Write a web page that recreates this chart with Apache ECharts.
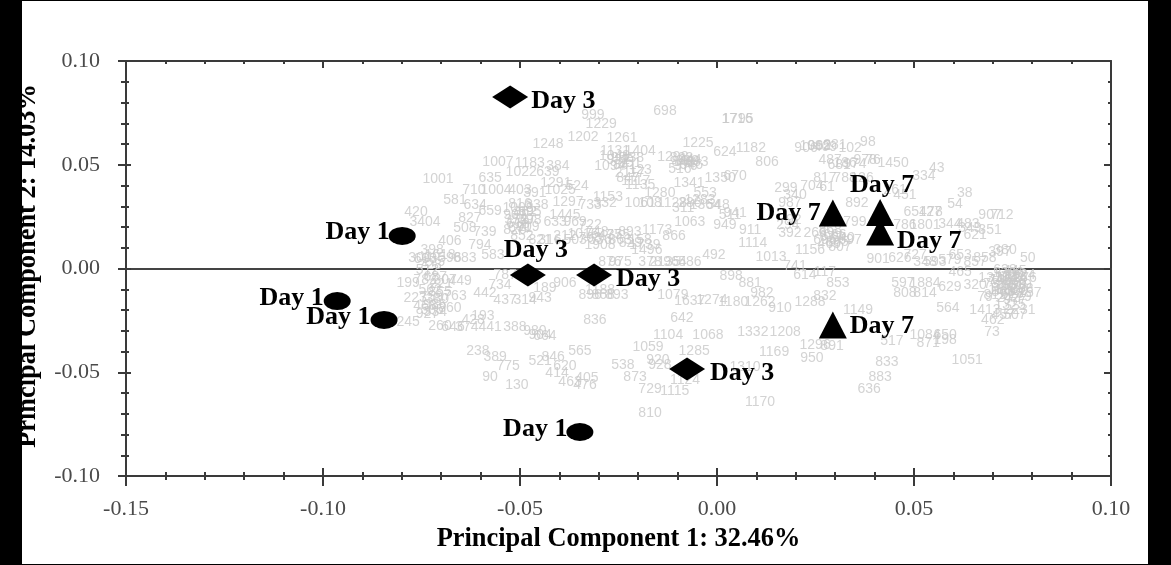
<!DOCTYPE html>
<html><head><meta charset="utf-8">
<style>html,body{margin:0;padding:0;background:#fff}#c{width:1171px;height:565px}</style>
<script src="https://cdn.jsdelivr.net/npm/echarts@6/dist/echarts.min.js"></script>
</head><body><div id="c"></div>
<script>
const xTitle = 'Principal Component 1: 32.46%';
const yTitle = 'Principal Component 2: 14.03%';
const day1Points = [[-0.0799,0.0157],[-0.0964,-0.0157],[-0.0845,-0.0248],[-0.0348,-0.0788]];
const day3Points = [[-0.0525,0.0827],[-0.0480,-0.0031],[-0.0312,-0.0031],[-0.0076,-0.0484]];
const day7Points = [[0.0294,0.0267],[0.0414,0.0270],[0.0414,0.0176],[0.0294,-0.0272]];
const day1Placement = [['left',[4,-4]],['left',[3,-3]],['left',[3,-3]],['left',[4,-3]]];
const day3Placement = [['right',[0,4]],['top',[8,3]],['right',[1,4]],['right',[2,4]]];
const day7Placement = [['left',[5,0]],['top',[2,2]],['right',[0,9]],['right',[0,1]]];
const genesTop = [[-0.0315,0.0740,'999'],[-0.0294,0.0696,'1229'],[-0.0132,0.0759,'698'],[0.0051,0.0720,'1716'],[0.0053,0.0720,'1795'],[-0.0429,0.0600,'1248'],[-0.0340,0.0634,'1202'],[-0.0241,0.0629,'1261'],[-0.0048,0.0605,'1225'],[0.0020,0.0561,'624'],[0.0086,0.0581,'1182'],[0.0127,0.0513,'806'],[-0.0556,0.0513,'1007'],[-0.0475,0.0508,'1183'],[-0.0404,0.0494,'384'],[-0.0497,0.0465,'1022'],[-0.0429,0.0465,'639'],[-0.0259,0.0566,'1131'],[-0.0195,0.0566,'1404'],[-0.0272,0.0494,'1094'],[-0.0234,0.0499,'841'],[-0.0251,0.0523,'921'],[-0.0221,0.0508,'951'],[-0.0112,0.0537,'1298'],[-0.0086,0.0513,'848'],[-0.0079,0.0494,'976'],[-0.0051,0.0513,'683'],[-0.0094,0.0480,'516'],[-0.0069,0.0523,'944'],[-0.0195,0.0475,'123'],[-0.0708,0.0431,'1001'],[-0.0576,0.0436,'635'],[-0.0617,0.0378,'710'],[-0.0561,0.0378,'1004'],[-0.0500,0.0378,'403'],[-0.0462,0.0364,'391'],[-0.0071,0.0412,'1341'],[0.0008,0.0436,'1350'],[0.0046,0.0446,'670'],[-0.0030,0.0364,'553'],[-0.0409,0.0412,'1291'],[-0.0398,0.0378,'1025'],[-0.0355,0.0398,'524'],[-0.0195,0.0402,'1135'],[-0.0206,0.0422,'1117'],[-0.0226,0.0436,'847'],[-0.0221,0.0460,'2117'],[-0.0145,0.0364,'1280'],[-0.0277,0.0345,'1153']];
const genesMiddle = [[-0.0378,0.0320,'1297'],[-0.0322,0.0306,'733'],[-0.0284,0.0316,'332'],[-0.0195,0.0316,'1061'],[-0.0170,0.0316,'108'],[-0.0114,0.0316,'1128'],[-0.0069,0.0316,'286'],[-0.0086,0.0292,'311'],[-0.0043,0.0330,'1283'],[-0.0030,0.0306,'1364'],[0.0003,0.0306,'548'],[-0.0069,0.0224,'1063'],[-0.0109,0.0157,'866'],[0.0033,0.0258,'511'],[0.0046,0.0267,'941'],[0.0020,0.0210,'949'],[0.0084,0.0186,'911'],[-0.0152,0.0186,'1173'],[-0.0221,0.0176,'893'],[0.0091,0.0123,'1114'],[0.0137,0.0055,'1013'],[-0.0008,0.0065,'492'],[-0.0500,0.0311,'816'],[-0.0487,0.0272,'862'],[-0.0513,0.0258,'907'],[-0.0475,0.0234,'598'],[-0.0505,0.0214,'618'],[-0.0513,0.0186,'826'],[-0.0495,0.0157,'852'],[-0.0475,0.0272,'695'],[-0.0457,0.0306,'338'],[-0.0386,0.0258,'1445'],[-0.0411,0.0224,'633'],[-0.0360,0.0224,'969'],[-0.0322,0.0210,'722'],[-0.0449,0.0137,'821'],[-0.0386,0.0157,'212'],[-0.0360,0.0137,'503'],[-0.0424,0.0137,'316'],[-0.0322,0.0147,'768'],[-0.0297,0.0137,'536'],[-0.0272,0.0161,'477'],[-0.0246,0.0137,'863'],[-0.0195,0.0137,'158'],[-0.0297,0.0113,'1908'],[-0.0183,0.0113,'1739'],[-0.0178,0.0089,'1496'],[-0.0246,0.0031,'975'],[-0.0272,0.0031,'876'],[-0.0170,0.0031,'378'],[-0.0132,0.0031,'2135'],[-0.0107,0.0031,'964'],[-0.0069,0.0031,'586']];
const genesLeft = [[-0.0665,0.0330,'581'],[-0.0614,0.0306,'634'],[-0.0576,0.0277,'659'],[-0.0764,0.0272,'420'],[-0.0741,0.0224,'3404'],[-0.0627,0.0243,'827'],[-0.0640,0.0195,'508'],[-0.0589,0.0176,'739'],[-0.0678,0.0133,'406'],[-0.0602,0.0113,'794'],[-0.0569,0.0065,'583'],[-0.0754,0.0051,'300'],[-0.0723,0.0089,'398'],[-0.0703,0.0065,'1618'],[-0.0728,0.0017,'728'],[-0.0678,0.0051,'596'],[-0.0640,0.0051,'883'],[-0.0784,-0.0070,'199'],[-0.0741,-0.0055,'782'],[-0.0690,-0.0055,'307'],[-0.0652,-0.0060,'449'],[-0.0766,-0.0142,'223'],[-0.0728,-0.0104,'562'],[-0.0703,-0.0113,'855'],[-0.0665,-0.0133,'763'],[-0.0716,-0.0176,'986'],[-0.0741,-0.0181,'468'],[-0.0723,-0.0200,'505'],[-0.0678,-0.0190,'860'],[-0.0784,-0.0258,'245'],[-0.0703,-0.0277,'260'],[-0.0670,-0.0282,'646'],[-0.0619,-0.0248,'428'],[-0.0594,-0.0229,'193'],[-0.0635,-0.0282,'374'],[-0.0576,-0.0282,'441'],[-0.0513,-0.0282,'388'],[-0.0589,-0.0118,'442'],[-0.0538,-0.0031,'787'],[-0.0551,-0.0080,'734'],[-0.0538,-0.0152,'437'],[-0.0487,-0.0152,'314'],[-0.0449,-0.0142,'943'],[-0.0437,-0.0094,'189'],[-0.0386,-0.0070,'906'],[-0.0297,-0.0104,'1188'],[-0.0322,-0.0128,'896'],[-0.0254,-0.0128,'893'],[-0.0289,-0.0128,'868'],[-0.0310,-0.0248,'836'],[-0.0462,-0.0301,'980'],[-0.0449,-0.0320,'904'],[-0.0437,-0.0325,'664']];
const genesLower = [[-0.0607,-0.0398,'238'],[-0.0563,-0.0427,'389'],[-0.0530,-0.0470,'775'],[-0.0576,-0.0523,'90'],[-0.0508,-0.0561,'130'],[-0.0449,-0.0446,'521'],[-0.0416,-0.0427,'846'],[-0.0348,-0.0398,'565'],[-0.0386,-0.0470,'620'],[-0.0406,-0.0504,'414'],[-0.0330,-0.0528,'405'],[-0.0373,-0.0547,'463'],[-0.0335,-0.0561,'476'],[-0.0239,-0.0465,'538'],[-0.0208,-0.0523,'873'],[-0.0170,-0.0581,'729'],[-0.0107,-0.0590,'1115'],[-0.0170,-0.0696,'810'],[-0.0175,-0.0378,'1059'],[-0.0124,-0.0320,'1104'],[-0.0023,-0.0320,'1068'],[-0.0058,-0.0398,'1285'],[-0.0150,-0.0441,'920'],[-0.0145,-0.0465,'928'],[-0.0081,-0.0537,'1124'],[0.0071,-0.0475,'1310'],[0.0145,-0.0402,'1169'],[0.0091,-0.0306,'1332'],[0.0173,-0.0306,'1208'],[-0.0089,-0.0239,'642'],[0.0109,-0.0643,'1170'],[-0.0112,-0.0128,'1079'],[-0.0069,-0.0157,'1637'],[-0.0013,-0.0152,'1274'],[0.0041,-0.0161,'1180'],[0.0109,-0.0161,'1262'],[0.0114,-0.0118,'982'],[0.0084,-0.0070,'881'],[0.0036,-0.0036,'898'],[0.0160,-0.0190,'910'],[0.0236,-0.0161,'1288'],[0.0274,-0.0133,'832'],[0.0307,-0.0070,'853'],[0.0198,0.0012,'741'],[0.0223,-0.0031,'614'],[0.0274,-0.0017,'117']];
const genesRightUpper = [[0.0226,0.0581,'906'],[0.0249,0.0590,'1095'],[0.0299,0.0595,'281'],[0.0338,0.0581,'102'],[0.0383,0.0610,'98'],[0.0287,0.0523,'487'],[0.0325,0.0508,'186'],[0.0376,0.0523,'978'],[0.0396,0.0523,'76'],[0.0447,0.0508,'1450'],[0.0558,0.0484,'43'],[0.0525,0.0446,'334'],[0.0604,0.0311,'54'],[0.0629,0.0364,'38'],[0.0274,0.0436,'817'],[0.0325,0.0436,'788'],[0.0368,0.0436,'126'],[0.0175,0.0388,'299'],[0.0241,0.0398,'704'],[0.0279,0.0393,'61'],[0.0355,0.0316,'892'],[0.0198,0.0354,'340'],[0.0185,0.0316,'987'],[0.0477,0.0354,'451'],[0.0452,0.0378,'261'],[0.0503,0.0272,'654'],[0.0541,0.0272,'127'],[0.0553,0.0272,'78'],[0.0528,0.0210,'1801'],[0.0477,0.0210,'786'],[0.0591,0.0214,'344'],[0.0637,0.0214,'483'],[0.0693,0.0258,'907'],[0.0723,0.0258,'712'],[0.0693,0.0186,'351'],[0.0655,0.0161,'621'],[0.0642,0.0195,'349'],[0.0185,0.0234,'792'],[0.0180,0.0210,'294'],[0.0185,0.0171,'392'],[0.0249,0.0171,'266'],[0.0236,0.0089,'1156'],[0.0312,0.0104,'807'],[0.0299,0.0161,'666'],[0.0274,0.0137,'696'],[0.0338,0.0137,'697'],[0.0287,0.0186,'868'],[0.0350,0.0224,'799'],[0.0409,0.0046,'901'],[0.0464,0.0051,'626'],[0.0503,0.0065,'727'],[0.0528,0.0031,'348'],[0.0553,0.0031,'593'],[0.0591,0.0041,'579'],[0.0617,0.0065,'653'],[0.0655,0.0031,'857'],[0.0680,0.0051,'858'],[0.0718,0.0080,'397'],[0.0731,0.0089,'380'],[0.0789,0.0051,'50']];
const genesRightLower = [[0.0617,-0.0017,'465'],[0.0693,-0.0046,'137'],[0.0782,-0.0046,'276'],[0.0731,-0.0055,'1355'],[0.0756,-0.0080,'996'],[0.0744,-0.0104,'1207'],[0.0769,-0.0031,'1024'],[0.0718,-0.0104,'188'],[0.0706,-0.0128,'812'],[0.0769,-0.0137,'779'],[0.0756,-0.0152,'977'],[0.0794,-0.0118,'257'],[0.0731,-0.0007,'638'],[0.0749,-0.0046,'1016'],[0.0718,-0.0055,'746'],[0.0769,-0.0080,'319'],[0.0739,-0.0142,'242'],[0.0472,-0.0070,'597'],[0.0528,-0.0070,'1884'],[0.0477,-0.0118,'808'],[0.0528,-0.0118,'814'],[0.0591,-0.0089,'629'],[0.0655,-0.0080,'320'],[0.0680,-0.0137,'79'],[0.0586,-0.0190,'564'],[0.0680,-0.0200,'1413'],[0.0744,-0.0176,'1325'],[0.0769,-0.0200,'2231'],[0.0700,-0.0248,'462'],[0.0726,-0.0224,'457'],[0.0756,-0.0224,'507'],[0.0698,-0.0306,'73'],[0.0358,-0.0200,'1149'],[0.0444,-0.0349,'517'],[0.0528,-0.0320,'1084'],[0.0579,-0.0320,'650'],[0.0536,-0.0359,'871'],[0.0579,-0.0345,'198'],[0.0635,-0.0441,'1051'],[0.0431,-0.0451,'833'],[0.0414,-0.0523,'883'],[0.0386,-0.0581,'636'],[0.0241,-0.0431,'950'],[0.0249,-0.0369,'1296'],[0.0292,-0.0373,'891']];
const genesDense = [[0.0744,-0.0040,'1042'],[0.0756,-0.0060,'288'],[0.0731,-0.0085,'555'],[0.0761,-0.0110,'399'],[0.0726,-0.0115,'866'],[0.0749,-0.0125,'623'],[0.0774,-0.0100,'208'],[0.0706,-0.0075,'731'],[0.0739,-0.0020,'1366'],[0.0756,-0.0015,'445'],[-0.0735,-0.0010,'512'],[-0.0715,-0.0040,'687'],[-0.0700,-0.0075,'221'],[-0.0725,-0.0140,'759'],[-0.0710,-0.0150,'380'],[-0.0735,-0.0220,'927'],[-0.0715,-0.0210,'334'],[-0.0740,0.0045,'603'],[-0.0720,0.0030,'175'],[-0.0505,0.0290,'1008'],[-0.0490,0.0240,'747'],[-0.0510,0.0235,'352'],[-0.0480,0.0200,'909'],[-0.0500,0.0195,'671'],[-0.0260,0.0540,'1049'],[-0.0240,0.0530,'956'],[-0.0215,0.0530,'438'],[-0.0090,0.0530,'823'],[-0.0065,0.0500,'946'],[-0.0075,0.0515,'389'],[0.0260,0.0590,'962'],[0.0275,0.0585,'409'],[0.0310,0.0500,'681'],[0.0350,0.0505,'974'],[0.0290,0.0150,'677'],[0.0305,0.0125,'885'],[0.0285,0.0115,'469'],[0.0320,0.0145,'640'],[-0.0340,0.0165,'1016'],[-0.0305,0.0175,'748'],[-0.0250,0.0160,'355'],[-0.0220,0.0120,'829']];

const allGenes = [].concat(genesTop, genesMiddle, genesLeft, genesLower, genesRightUpper, genesRightLower, genesDense);
const SERIF = '"Liberation Serif","Times New Roman",serif';
const AX = '#3a3a3a';
const fmt = v => v.toFixed(2);
const line = {lineStyle:{color:AX,width:2}};

function baseX(extra){return Object.assign({type:'value',min:-0.15,max:0.10,interval:0.05,splitLine:{show:false},axisLabel:{show:false},minorSplitLine:{show:false},axisLine:{show:true,onZero:false,lineStyle:line.lineStyle}},extra);}
function baseY(extra){return Object.assign({type:'value',min:-0.10,max:0.10,interval:0.05,splitLine:{show:false},axisLabel:{show:false},minorSplitLine:{show:false},axisLine:{show:true,onZero:false,lineStyle:line.lineStyle}},extra);}
function ticks(inside,major,minor){return {axisTick:{show:true,inside:inside,length:major,lineStyle:line.lineStyle},minorTick:{show:true,splitNumber:5,length:minor,lineStyle:line.lineStyle}};}

function daySeries(points,symbol,size,text,placement){
  return {type:'scatter',xAxisIndex:0,yAxisIndex:0,z:5,symbol:symbol,symbolSize:size,silent:true,
    itemStyle:{color:'#000',opacity:1},
    data:points.map((p,i)=>({value:p,label:{show:true,formatter:text,position:placement[i][0],offset:placement[i][1],distance:3,
      fontFamily:SERIF,fontWeight:'bold',fontSize:26,color:'#000'}}))};
}

const chart = echarts.init(document.getElementById('c'),null,{renderer:'canvas'});
chart.setOption({
  animation:false,backgroundColor:'#fff',
  grid:{left:126,right:60,top:61,bottom:89,containLabel:false,outerBoundsMode:'none'},
  xAxis:[
    baseX(Object.assign({position:'bottom',name:xTitle,nameLocation:'middle',nameGap:50,
      nameTextStyle:{fontFamily:SERIF,fontWeight:'bold',fontSize:26.4,color:'#000'},
      axisLabel:{show:true,formatter:fmt,margin:22,fontFamily:SERIF,fontSize:22,color:'#4a4a4a'}},ticks(false,10,4))),
    baseX(Object.assign({position:'bottom'},ticks(true,8,4))),
    baseX(Object.assign({position:'top'},ticks(true,7,3))),
    baseX({position:'bottom',axisLine:{show:true,onZero:true,lineStyle:{color:'#444',width:2}},axisTick:{show:false},minorTick:{show:false}})
  ],
  yAxis:[
    baseY(Object.assign({position:'left',name:yTitle,nameLocation:'middle',nameGap:85,nameRotate:90,
      nameTextStyle:{fontFamily:SERIF,fontWeight:'bold',fontSize:26.4,color:'#000',padding:[0,0,0,5]},
      axisLabel:{show:true,formatter:fmt,margin:26,fontFamily:SERIF,fontSize:22,color:'#4a4a4a'}},ticks(false,8,5))),
    baseY(Object.assign({position:'left'},ticks(true,5,3))),
    baseY(Object.assign({position:'right'},ticks(true,7,3)))
  ],
  series:[
    {type:'scatter',xAxisIndex:0,yAxisIndex:0,z:3,symbol:'circle',symbolSize:1,silent:true,
      itemStyle:{color:'rgba(0,0,0,0)'},
      data:allGenes.map(g=>({value:[g[0],g[1]],name:g[2]})),
      label:{show:true,position:'inside',formatter:p=>p.name,fontFamily:'"Liberation Sans",Arial,sans-serif',fontSize:14,color:'#c8c8c8'}},
    daySeries(day1Points,'circle',[27,18],'Day 1',day1Placement),
    daySeries(day3Points,'diamond',[36,23],'Day 3',day3Placement),
    daySeries(day7Points,'triangle',[28,27],'Day 7',day7Placement)
  ],
  graphic:[
    {type:'rect',z:100,shape:{x:0,y:0,width:22,height:565},style:{fill:'#000'}},
    {type:'rect',z:100,shape:{x:1148,y:0,width:23,height:565},style:{fill:'#000'}},
    {type:'rect',z:100,shape:{x:0,y:0,width:1171,height:1},style:{fill:'#000'}},
    {type:'rect',z:100,shape:{x:0,y:564,width:1171,height:1},style:{fill:'#000'}}
  ]
});
</script></body></html>
